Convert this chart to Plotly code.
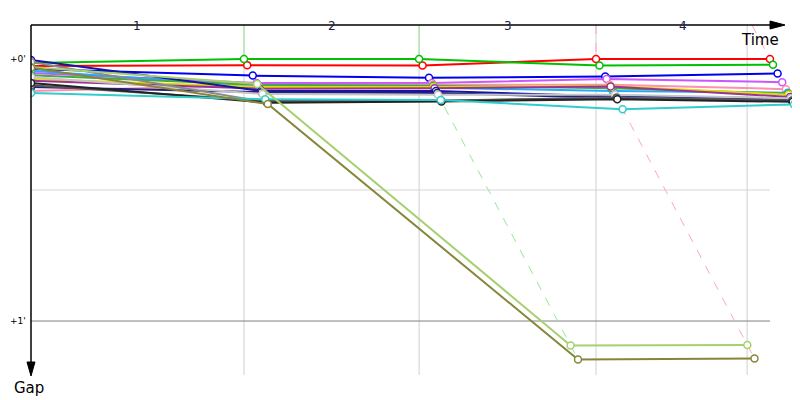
import plotly.graph_objects as go

# ---- data (seconds) ----
leader_times = [0.0, 92.2, 168.0, 244.6, 319.9]   # start, leader crossing lap 1..4
lap_labels = ["1", "2", "3", "4"]
vline_times = [92.2, 168.0, 244.6, 310.0]
y_tick_vals = [0, 60]
y_tick_text = ["+0'", "+1'"]

driver_colors = [
    "#ff0000", "#00c000", "#0000ee", "#cc55ff", "#ff8fb0", "#22aaff",
    "#44aa44", "#e0dc00", "#993399", "#1515a0", "#202080", "#c4c4c4",
    "#8a8a8a", "#555555", "#222222", "#33cccc", "#a6d070", "#86863a",
]
driver_gaps = [
    [1.6, 1.4, 1.5, 0.0, 0.0],
    [0.9, 0.0, 0.0, 1.5, 1.3],
    [2.3, 3.8, 4.3, 4.0, 3.3],
    [3.2, 5.5, 5.5, 4.6, 5.3],
    [7.3, 6.0, 5.9, 5.9, 6.9],
    [2.7, 6.2, 6.6, 7.3, 7.7],
    [3.7, 5.9, 6.1, 6.7, 7.9],
    [4.6, 6.4, 6.4, 6.2, 8.2],
    [5.0, 6.8, 6.7, 6.3, 8.7],
    [0.2, 7.3, 7.3, 8.6, 9.0],
    [6.4, 7.6, 7.8, 8.9, 9.3],
    [4.1, 8.0, 8.2, 8.2, 9.0],
    [0.7, 9.9, 9.6, 8.8, 9.6],
    [6.0, 9.6, 9.5, 8.9, 9.5],
    [5.5, 10.0, 9.7, 9.2, 9.8],
    [7.8, 9.2, 9.4, 11.5, 10.4],
    [1.8, 5.7, 65.6, 65.5, None],
    [2.0, 10.3, 68.8, 68.6, None],
]
# lap lines: leader colour per lap
lap_line_colors = ["#99e699", "#99e699", "#ffaaaa", "#ffaaaa"]

X_MAX = 332.9
Y_TOP = -7.79
Y_BOT = 72.36

fig = go.Figure()

# grey vertical lap lines
for t in vline_times:
    fig.add_trace(go.Scatter(x=[t, t], y=[Y_TOP, Y_BOT], mode="lines",
                             line=dict(color="#cfcfcf", width=1), hoverinfo="skip", showlegend=False))

# horizontal grid
fig.add_trace(go.Scatter(x=[0, leader_times[4]], y=[30, 30], mode="lines",
                         line=dict(color="#d6d6d6", width=1), hoverinfo="skip", showlegend=False))
fig.add_trace(go.Scatter(x=[0, leader_times[4]], y=[60, 60], mode="lines",
                         line=dict(color="#808080", width=1), hoverinfo="skip", showlegend=False))

# lap lines (time = leader time + gap)
for i in range(4):
    tl = leader_times[i + 1]
    col = lap_line_colors[i]
    gaps_at_lap = [g[i + 1] for g in driver_gaps if g[i + 1] is not None]
    gmax = max(gaps_at_lap)
    if i < 3:
        fig.add_trace(go.Scatter(x=[tl, tl], y=[Y_TOP, 0], mode="lines",
                                 line=dict(color=col, width=1, dash="dash" if i == 2 else "solid"),
                                 hoverinfo="skip", showlegend=False))
        fig.add_trace(go.Scatter(x=[tl, tl + gmax], y=[0, gmax], mode="lines",
                                 line=dict(color=col, width=1, dash="dash"),
                                 hoverinfo="skip", showlegend=False))
    else:
        fig.add_trace(go.Scatter(x=[tl + Y_TOP, tl], y=[Y_TOP, 0], mode="lines",
                                 line=dict(color=col, width=1, dash="dash"),
                                 hoverinfo="skip", showlegend=False))

# drivers
for col, gaps in zip(driver_colors, driver_gaps):
    xs, ys = [], []
    for lap, g in enumerate(gaps):
        if g is None:
            continue
        xs.append(0.0 if lap == 0 else leader_times[lap] + g)
        ys.append(g)
    fig.add_trace(go.Scatter(
        x=xs, y=ys, mode="lines+markers",
        line=dict(color=col, width=2),
        marker=dict(symbol="circle", size=7, color="white", line=dict(color=col, width=1.5)),
        showlegend=False, hoverinfo="skip"))

ann = []
# lap labels
for i, lab in enumerate(lap_labels):
    ann.append(dict(x=(leader_times[i] + leader_times[i + 1]) / 2, y=1.0, xref="x", yref="paper",
                    yshift=8, text=lab, showarrow=False, font=dict(size=12, color="#202040")))
# y tick labels
for v, t in zip(y_tick_vals, y_tick_text):
    ann.append(dict(x=-0.0299, y=v, xref="paper", yref="y", text=t, showarrow=False,
                    xanchor="left", font=dict(size=9, color="black")))
ann.append(dict(x=0.948, y=0.99, xref="paper", yref="paper", text="Time", showarrow=False,
                xanchor="center", yanchor="top", font=dict(size=15, color="black")))
ann.append(dict(x=-0.002, y=-0.005, xref="paper", yref="paper", text="Gap", showarrow=False,
                xanchor="center", yanchor="top", font=dict(size=15, color="black")))

def px(xp):
    return (xp - 31) / 769.0

def py(yp):
    return (375 - yp) / 350.0

shapes = [
    dict(type="line", xref="paper", yref="paper", x0=px(31), y0=py(25), x1=px(772), y1=py(25),
         line=dict(color="black", width=1.5)),
    dict(type="path", xref="paper", yref="paper",
         path=f"M {px(770)},{py(21)} L {px(785)},{py(25)} L {px(770)},{py(29)} Z",
         fillcolor="black", line=dict(color="black", width=1)),
    dict(type="line", xref="paper", yref="paper", x0=px(31), y0=py(25), x1=px(31), y1=py(364),
         line=dict(color="black", width=1.5)),
    dict(type="path", xref="paper", yref="paper",
         path=f"M {px(27)},{py(362)} L {px(31)},{py(376)} L {px(35)},{py(362)} Z",
         fillcolor="black", line=dict(color="black", width=1)),
]

# page has an 8px body margin: shrink the figure so the plot area lands where the reference has it
fig.update_layout(
    width=792, height=392,
    margin=dict(l=23, r=0, t=17, b=25),
    paper_bgcolor="white", plot_bgcolor="white",
    font=dict(family="DejaVu Sans", color="black"),
    xaxis=dict(range=[0, X_MAX], showgrid=False, zeroline=False, showticklabels=False,
               showline=False),
    yaxis=dict(range=[Y_BOT, Y_TOP], showgrid=False, zeroline=False, showticklabels=False,
               showline=False),
    annotations=ann, shapes=shapes,
)

fig.write_html("out.html")
